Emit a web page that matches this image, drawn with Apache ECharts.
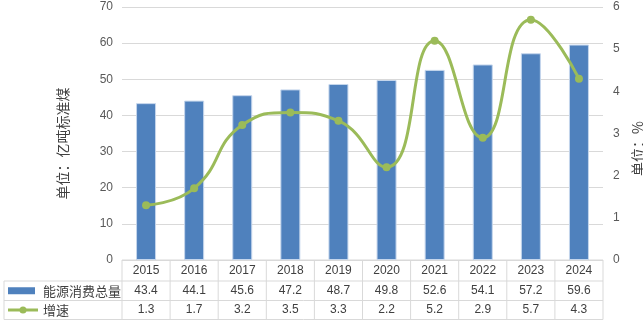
<!DOCTYPE html>
<html>
<head>
<meta charset="utf-8">
<script src="https://cdn.jsdelivr.net/npm/echarts@6/dist/echarts.min.js"></script>
<style>
html,body{margin:0;padding:0;background:#fff;}
#chart{width:643px;height:325px;}
</style>
</head>
<body>
<div id="chart"></div>
<script>
// Annual energy consumption (100 million tce) and growth rate (%)
const years = ['2015', '2016', '2017', '2018', '2019', '2020', '2021', '2022', '2023', '2024'];
const consumption = [43.4, 44.1, 45.6, 47.2, 48.7, 49.8, 52.6, 54.1, 57.2, 59.6];
const growth = [1.3, 1.7, 3.2, 3.5, 3.3, 2.2, 5.2, 2.9, 5.7, 4.3];
const seriesNames = ['能源消费总量', '增速'];
const leftAxisName = '单位：亿吨标准煤';
const rightAxisName = '单位：%';

const BAR_COLOR = '#4F81BD';
const LINE_COLOR = '#9BBB59';
const GRID_COLOR = '#D9D9D9';
const TEXT_COLOR = '#404040';
const NUM_FONT = '"Liberation Sans", "Noto Sans", sans-serif';
const CJK_FONT = '"Noto Sans CJK SC", sans-serif';

const chart = echarts.init(document.getElementById('chart'), null, { renderer: 'canvas' });

chart.setOption({
  animation: false,
  backgroundColor: '#ffffff',
  grid: { left: 122, right: 40, top: 7, bottom: 65, containLabel: false, outerBoundsMode: 'none' },
  xAxis: {
    type: 'category',
    data: years,
    axisLine: { show: false },
    axisTick: { show: false },
    axisLabel: { show: false }
  },
  yAxis: [
    {
      type: 'value', min: 0, max: 70, interval: 10,
      name: leftAxisName, nameLocation: 'middle', nameGap: 52, nameRotate: 90,
      nameTextStyle: { fontFamily: CJK_FONT, fontSize: 14, color: TEXT_COLOR, padding: [0, 20, 0, 0] },
      axisLine: { show: false }, axisTick: { show: false },
      axisLabel: { margin: 9, fontFamily: NUM_FONT, fontSize: 12, color: '#595959' },
      splitLine: { lineStyle: { color: GRID_COLOR, width: 1 } }
    },
    {
      type: 'value', min: 0, max: 6, interval: 1, position: 'right',
      name: rightAxisName, nameLocation: 'middle', nameGap: 18, nameRotate: 90,
      nameTextStyle: { fontFamily: CJK_FONT, fontSize: 14, color: TEXT_COLOR, padding: [0, 30, 0, 0] },
      axisLine: { show: false }, axisTick: { show: false },
      axisLabel: { margin: 10, fontFamily: NUM_FONT, fontSize: 12, color: '#595959' },
      splitLine: { show: false }
    }
  ],
  series: [
    {
      name: seriesNames[0],
      type: 'bar',
      data: consumption,
      barWidth: 20,
      itemStyle: { color: BAR_COLOR, borderColor: '#C5D6EC', borderWidth: 1 }
    },
    {
      name: seriesNames[1],
      type: 'line',
      yAxisIndex: 1,
      data: growth,
      smooth: 0.5,
      symbol: 'circle',
      symbolSize: 8,
      lineStyle: { color: LINE_COLOR, width: 3 },
      itemStyle: { color: LINE_COLOR }
    }
  ]
});

// Data table below the plot, aligned to the category axis
function buildTable() {
  const centers = years.map(y => chart.convertToPixel({ xAxisIndex: 0 }, y));
  const colW = centers[1] - centers[0];
  const left = centers[0] - colW / 2;
  const right = centers[centers.length - 1] + colW / 2;
  const y0 = chart.convertToPixel({ yAxisIndex: 0 }, 0);
  const rowH = [21, 19.5, 19];
  const y1 = y0 + rowH[0];
  const y2 = y1 + rowH[1];
  const y3 = y2 + rowH[2];
  const tableLeft = 4;
  const els = [];
  const line = (x1, ya, x2, yb) => els.push({
    type: 'line', silent: true,
    shape: { x1: x1, y1: ya, x2: x2, y2: yb },
    style: { stroke: GRID_COLOR, lineWidth: 1 }
  });
  line(left, y0, right, y0);
  line(tableLeft, y1, right, y1);
  line(tableLeft, y2, right, y2);
  line(tableLeft, y3, right, y3);
  line(tableLeft, y1, tableLeft, y3);
  for (let i = 0; i <= years.length; i++) {
    const x = left + i * colW;
    line(x, y0, x, y3);
  }
  const cell = (txt, x, y) => els.push({
    type: 'text', silent: true,
    style: { text: txt, x: x, y: y, align: 'center', verticalAlign: 'middle',
             font: '12px ' + NUM_FONT, fill: TEXT_COLOR }
  });
  years.forEach((y, i) => {
    cell(y, centers[i], (y0 + y1) / 2);
    cell(consumption[i].toFixed(1), centers[i], (y1 + y2) / 2);
    cell(growth[i].toFixed(1), centers[i], (y2 + y3) / 2);
  });
  // row headers with legend keys
  const r1 = (y1 + y2) / 2, r2 = (y2 + y3) / 2;
  els.push({ type: 'rect', silent: true, shape: { x: 8, y: r1 - 3.5, width: 27, height: 7 }, style: { fill: BAR_COLOR } });
  els.push({ type: 'line', silent: true, shape: { x1: 8, y1: r2, x2: 38, y2: r2 }, style: { stroke: LINE_COLOR, lineWidth: 3 } });
  els.push({ type: 'circle', silent: true, shape: { cx: 23, cy: r2, r: 3.5 }, style: { fill: LINE_COLOR } });
  [seriesNames[0], seriesNames[1]].forEach((n, k) => els.push({
    type: 'text', silent: true,
    style: { text: n, x: 43, y: k === 0 ? r1 : r2, align: 'left', verticalAlign: 'middle',
             font: '13px ' + CJK_FONT, fill: TEXT_COLOR }
  }));
  chart.setOption({ graphic: { elements: els } });
}
buildTable();
</script>
</body>
</html>
